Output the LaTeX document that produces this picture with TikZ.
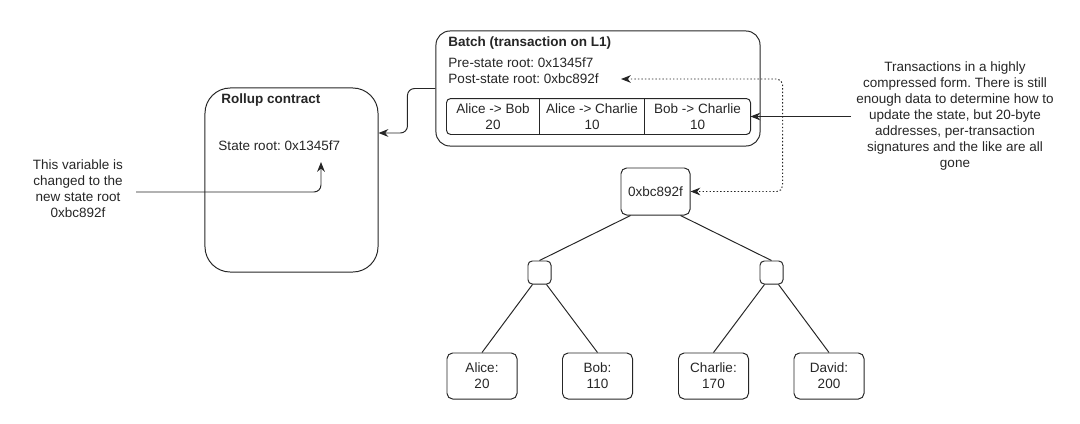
\documentclass[tikz,border=0pt]{standalone}
\usepackage{fontspec}
\setmainfont{Liberation Sans}
\usetikzlibrary{arrows.meta,positioning}
\frenchspacing

\tikzset{
  treenode/.style={draw, rounded corners=4pt, align=center, inner sep=0pt},
  cell/.style={align=center, inner sep=0pt, minimum height=0.875cm},
  label/.style={anchor=west, inner sep=0pt},
}

\begin{document}
\begin{tikzpicture}[x=0.025cm, y=-0.025cm, line width=0.7pt, color=black!85,
    font=\fontsize{9.6}{11.4}\selectfont, >={Stealth[length=7pt,width=5.5pt]}]
    \useasboundingbox (0,0) rectangle (1080,423);

    % batch on L1
    \node[draw, rounded corners=10pt, minimum width=8.1cm, minimum height=2.875cm] (batch) at (598,88.5) {};
    \node[label, font=\fontsize{9.6}{11.4}\selectfont\bfseries] (batchtitle) at (448,43) {Batch (transaction on L1)};
    \node[label] (pre) at (448,63) {Pre-state root: 0x1345f7};
    \node[label] (post) at (448,79) {Post-state root: 0xbc892f};

    % compressed transactions
    \node[cell, minimum width=2.3cm] (tx1) at (493,116.5) {Alice -> Bob\\20};
    \node[cell, minimum width=2.6cm, right=0pt of tx1] (tx2) {Alice -> Charlie\\10};
    \node[cell, minimum width=2.625cm, right=0pt of tx2] (tx3) {Bob -> Charlie\\10};
    \draw[rounded corners=3pt] (tx1.north west) rectangle (tx3.south east);
    \draw (tx1.north east) -- (tx1.south east);
    \draw (tx2.north east) -- (tx2.south east);

    % rollup contract
    \node[draw, rounded corners=18pt, minimum width=4.325cm, minimum height=4.6cm] (rollup) at (291.5,180) {};
    \node[label, font=\fontsize{9.6}{11.4}\selectfont\bfseries] (rolluptitle) at (221,100) {Rollup contract};
    \node[label] (stateroot) at (218,146) {State root: 0x1345f7};
    \coordinate (srtip) at (321,162);

    % notes
    \node[align=center] (note) at (78,189) {This variable is\\changed to the\\new state root\\0xbc892f};
    \node[align=center] (txnote) at (955,116) {Transactions in a highly\\compressed form. There is still\\enough data to determine how to\\update the state, but 20-byte\\addresses, per-transaction\\signatures and the like are all\\gone};

    % state tree
    \node[treenode, minimum width=1.725cm, minimum height=1.175cm] (root) at (655.5,191.5) {0xbc892f};
    \node[treenode, rounded corners=3pt, minimum size=0.575cm] (m1) at (539.5,272.5) {};
    \node[treenode, rounded corners=3pt, minimum size=0.575cm] (m2) at (771.5,272.5) {};
    \node[treenode, minimum width=1.75cm, minimum height=1.15cm] (alice) at (482,376) {Alice:\\20};
    \node[treenode, minimum width=1.75cm, minimum height=1.15cm] (bob) at (597.5,376) {Bob:\\110};
    \node[treenode, minimum width=1.75cm, minimum height=1.15cm] (charlie) at (713.5,376) {Charlie:\\170};
    \node[treenode, minimum width=1.75cm, minimum height=1.15cm] (david) at (829,376) {David:\\200};

    \draw ([xshift=0.25cm]root.south west) -- (m1.north);
    \draw ([xshift=-0.25cm]root.south east) -- (m2.north);
    \draw ([xshift=-0.175cm]m1.south) -- (alice.north);
    \draw ([xshift=0.175cm]m1.south) -- (bob.north);
    \draw ([xshift=-0.175cm]m2.south) -- (charlie.north);
    \draw ([xshift=0.175cm]m2.south) -- (david.north);

    % connectors
    \draw[->, rounded corners=5pt] (batch.west) -- ++(-0.7cm,0) |- ([yshift=1.175cm]rollup.east);
    \draw[->, rounded corners=5pt] ([xshift=0.2cm]note.east |- 0,192) -| (srtip);
    \draw[->] (txnote.west |- tx3.east) -- (tx3.east);
    \draw[<->, dash pattern=on 1pt off 1.5pt, rounded corners=4pt] ([xshift=0.55cm]post.east) -| ([xshift=2.3cm]root.east) -- (root.east);
\end{tikzpicture}
\end{document}
